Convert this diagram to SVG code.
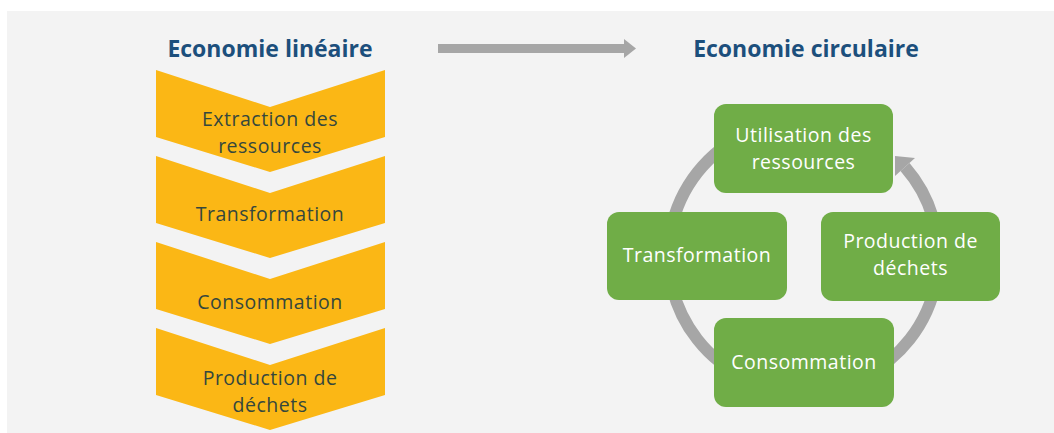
<svg xmlns="http://www.w3.org/2000/svg" width="1054" height="433" viewBox="0 0 1054 433">
<defs>
<style>
.title{font-family:"Open Sans","Liberation Sans",sans-serif;font-weight:bold;font-size:23px;fill:#1c4f7c;text-anchor:middle}
.chev{fill:#fbb715}
.ct{font-family:"Open Sans","Liberation Sans",sans-serif;font-size:19.5px;letter-spacing:0.5px;fill:#35473d;text-anchor:middle}
.box{fill:#70ad47}
.bt{font-family:"Open Sans","Liberation Sans",sans-serif;font-size:19.5px;letter-spacing:0.5px;fill:#ffffff;text-anchor:middle}
.gray{fill:#a6a6a6}
</style>
<polygon id="chevShape" points="156,0 270,37 385,0 385,67 270,102 156,67"/>
</defs>
<rect x="0" y="0" width="1054" height="433" fill="#ffffff"/>
<rect x="7" y="11" width="1047" height="422" fill="#f3f3f3"/>

<text class="title" x="270" y="57">Economie linéaire</text>
<text class="title" x="806" y="57">Economie circulaire</text>

<g id="connectors">
<g id="main-arrow" class="gray">
<rect x="438" y="44" width="188" height="9"/>
<polygon points="624,39 636,48.5 624,58"/>
</g>
<g id="cycle">
<path d="M 804 121 A 135 135 0 1 0 905 167" fill="none" stroke="#a6a6a6" stroke-width="12"/>
<polygon class="gray" points="895,156 915,158 895,176"/>
</g>
</g>

<g id="lin-extraction">
<use href="#chevShape" class="chev" transform="translate(0,70)"/>
<text class="ct" x="270" y="125.5">Extraction des</text>
<text class="ct" x="270" y="152.5">ressources</text>
</g>
<g id="lin-transformation">
<use href="#chevShape" class="chev" transform="translate(0,156)"/>
<text class="ct" x="270" y="221">Transformation</text>
</g>
<g id="lin-consommation">
<use href="#chevShape" class="chev" transform="translate(0,242)"/>
<text class="ct" x="270" y="309">Consommation</text>
</g>
<g id="lin-production">
<use href="#chevShape" class="chev" transform="translate(0,328)"/>
<text class="ct" x="270" y="384.5">Production de</text>
<text class="ct" x="270" y="411.5">déchets</text>
</g>

<g id="circ-utilisation">
<rect class="box" x="714" y="104" width="179" height="89" rx="12"/>
<text class="bt" x="803.5" y="142">Utilisation des</text>
<text class="bt" x="803.5" y="169">ressources</text>
</g>
<g id="circ-transformation">
<rect class="box" x="607" y="212" width="180" height="88" rx="12"/>
<text class="bt" x="697" y="262">Transformation</text>
</g>
<g id="circ-production">
<rect class="box" x="821" y="212" width="179" height="89" rx="12"/>
<text class="bt" x="910.5" y="248">Production de</text>
<text class="bt" x="910.5" y="275">déchets</text>
</g>
<g id="circ-consommation">
<rect class="box" x="714" y="318" width="180" height="89" rx="12"/>
<text class="bt" x="804" y="369">Consommation</text>
</g>
</svg>
